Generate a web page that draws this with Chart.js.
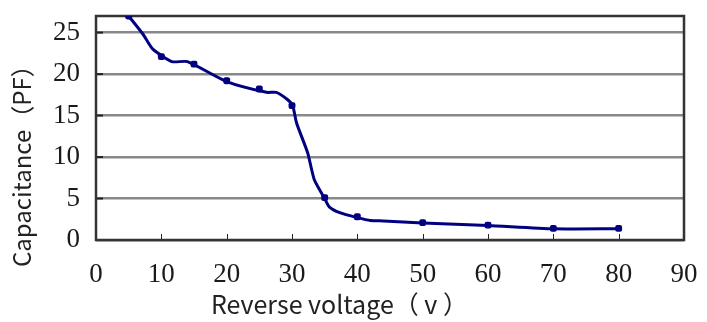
<!DOCTYPE html>
<html>
<head>
<meta charset="utf-8">
<script src="https://cdn.jsdelivr.net/npm/chart.js@4.4.0/dist/chart.umd.min.js"></script>
<style>
  html, body { margin: 0; padding: 0; background: #fff; }
  #wrap { width: 707px; height: 322px; }
</style>
</head>
<body>
<div id="wrap"><canvas id="cvChart"></canvas></div>
<script>
// C-V Kurve: Kapazität über Sperrspannung

// geglättete Kurve (Spannung, Kapazität)
const curveVolt = [5, 7.2, 8.7, 11.6, 14, 20, 26.1, 27.6, 29.2, 30.1, 30.7, 32.4, 33.4, 35, 35.7, 37.3, 40, 42, 44, 50, 60, 70, 80];
const curveCap  = [27.0, 24.8, 23.0, 21.5, 21.5, 19.1, 17.8, 17.8, 17.0, 16.2, 14.1, 10.5, 7.3, 5.0, 4.0, 3.3, 2.7, 2.35, 2.3, 2.05, 1.75, 1.35, 1.35];

// Messpunkte
const pointVolt = [5, 10, 15, 20, 25, 30, 35, 40, 50, 60, 70, 80];
const pointCap  = [27.0, 22.1, 21.2, 19.2, 18.2, 16.2, 5.1, 2.8, 2.1, 1.8, 1.4, 1.4];

// Achsen
const xTicks = [0, 10, 20, 30, 40, 50, 60, 70, 80, 90];
const yTicks = [0, 5, 10, 15, 20, 25];
const yMax = 27;

const xTitle = "Reverse voltage（ v ）";
const yTitle = "Capacitance（PF）";

const lineColor = "#000080";
const tickFont = { family: "'Liberation Serif', 'DejaVu Serif', serif", size: 27 };

// Rahmen, kurze Innenstriche und Achsentitel
const frameAndTitles = {
  id: "frameAndTitles",
  beforeDatasetsDraw(chart) {
    const { ctx, chartArea: a, scales } = chart;
    ctx.save();
    ctx.strokeStyle = "#222";
    ctx.lineWidth = 1;
    xTicks.slice(1, -1).forEach(v => {
      const px = Math.round(scales.x.getPixelForValue(v)) + 0.5;
      ctx.beginPath();
      ctx.moveTo(px, a.bottom);
      ctx.lineTo(px, a.bottom - 6);
      ctx.stroke();
    });
    ctx.lineWidth = 2;
    yTicks.slice(1).forEach(v => {
      const py = scales.y.getPixelForValue(v);
      ctx.beginPath();
      ctx.moveTo(a.left, py);
      ctx.lineTo(a.left + 7, py);
      ctx.stroke();
    });
    ctx.strokeStyle = "#333";
    ctx.lineWidth = 2.5;
    ctx.strokeRect(a.left, a.top, a.right - a.left, a.bottom - a.top);

    ctx.fillStyle = "#222";
    ctx.textAlign = "left";
    ctx.textBaseline = "alphabetic";
    ctx.font = "25px 'Noto Sans CJK SC', 'Noto Sans', sans-serif";
    ctx.fillText(xTitle, 211, 314);

    ctx.font = "24px 'Noto Sans CJK SC', 'Noto Sans', sans-serif";
    ctx.translate(31, 267);
    ctx.rotate(-Math.PI / 2);
    ctx.fillText(yTitle, 0, 0);
    ctx.restore();
  }
};

new Chart(document.getElementById("cvChart"), {
  type: "scatter",
  data: {
    datasets: [
      {
        data: curveVolt.map((v, i) => ({ x: v, y: curveCap[i] })),
        showLine: true,
        borderColor: lineColor,
        borderWidth: 3,
        pointRadius: 0,
        tension: 0.2,
        fill: false
      },
      {
        data: pointVolt.map((v, i) => ({ x: v, y: pointCap[i] })),
        showLine: false,
        pointStyle: "rectRounded",
        pointRadius: 4,
        backgroundColor: lineColor,
        borderColor: lineColor,
        borderWidth: 0
      }
    ]
  },
  options: {
    responsive: true,
    maintainAspectRatio: false,
    animation: false,
    layout: { padding: { top: 16, right: 23, left: 0, bottom: 0 } },
    plugins: { legend: { display: false }, tooltip: { enabled: false } },
    scales: {
      x: {
        type: "linear",
        min: 0,
        max: 90,
        afterFit(scale) { scale.height = 82; scale.paddingLeft = 0; scale.paddingRight = 0; },
        afterBuildTicks(scale) { scale.ticks = xTicks.map(v => ({ value: v })); },
        grid: { display: false },
        border: { display: false },
        ticks: { color: "#1a1a1a", font: tickFont, padding: 11, maxRotation: 0 }
      },
      y: {
        min: 0,
        max: yMax,
        afterFit(scale) { scale.width = 96; scale.paddingTop = 0; scale.paddingBottom = 0; },
        afterBuildTicks(scale) { scale.ticks = yTicks.map(v => ({ value: v })); },
        grid: { color: "#888", lineWidth: 2.5, drawTicks: false },
        border: { display: false },
        ticks: { color: "#1a1a1a", font: tickFont, padding: 16 }
      }
    }
  },
  plugins: [frameAndTitles]
});
</script>
</body>
</html>
